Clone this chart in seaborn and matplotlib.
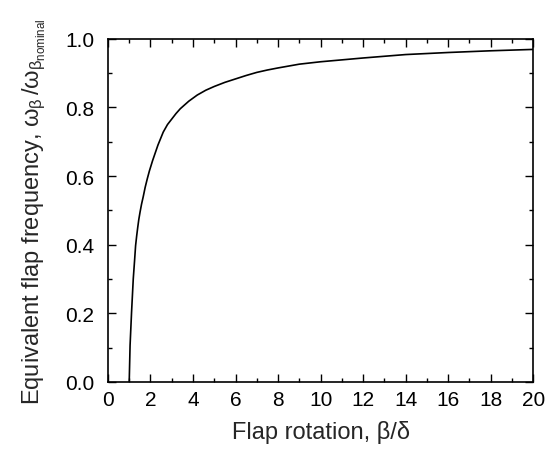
import matplotlib
matplotlib.use("Agg")
import matplotlib.pyplot as plt
from matplotlib.ticker import MultipleLocator
import seaborn as sns
import pandas as pd

# values
flap_rotation = [1.0, 1.04, 1.11, 1.19, 1.25, 1.30, 1.35, 1.40, 1.45, 1.51, 1.58,
                 1.66, 1.75, 1.85, 1.95, 2.1, 2.35, 2.6, 2.8, 3.0, 3.2, 3.4, 3.8,
                 4.2, 4.6, 5.0, 5.5, 6.0, 6.5, 7.0, 7.5, 8.0, 9.0, 10.0, 12.0,
                 14.0, 16.0, 18.0, 20.0]
flap_frequency = [0.0, 0.106, 0.203, 0.300, 0.352, 0.397, 0.425, 0.450, 0.473,
                  0.495, 0.518, 0.540, 0.567, 0.592, 0.615, 0.645, 0.690, 0.728,
                  0.750, 0.766, 0.782, 0.796, 0.818, 0.836, 0.850, 0.861, 0.873,
                  0.883, 0.893, 0.902, 0.909, 0.915, 0.926, 0.933, 0.944, 0.954,
                  0.960, 0.965, 0.969]

data = pd.DataFrame({"beta": flap_rotation, "freq": flap_frequency})

sns.set_style("ticks")
plt.rcParams["font.family"] = ["Liberation Sans", "DejaVu Sans"]
plt.rcParams["mathtext.fontset"] = "custom"
plt.rcParams["mathtext.rm"] = "Liberation Sans"
plt.rcParams["mathtext.it"] = "Liberation Sans"

fig = plt.figure(figsize=(5.48, 4.52), dpi=100)
ax = fig.add_axes([0.197, 0.153, 0.776, 0.759])

sns.lineplot(data=data, x="beta", y="freq", color="black", linewidth=1.2,
             ax=ax, sort=False)

ax.set_xlim(0, 20)
ax.set_ylim(0, 1.0)
ax.xaxis.set_major_locator(MultipleLocator(2))
ax.xaxis.set_minor_locator(MultipleLocator(1))
ax.yaxis.set_major_locator(MultipleLocator(0.2))
ax.yaxis.set_minor_locator(MultipleLocator(0.1))
ax.yaxis.set_major_formatter(matplotlib.ticker.FormatStrFormatter("%.1f"))

ax.tick_params(which="both", direction="in", top=True, right=True,
               colors="black", labelsize=15, width=1.0)
ax.tick_params(which="major", length=6)
ax.tick_params(which="minor", length=3)
ax.tick_params(axis="x", which="major", pad=6)
ax.tick_params(axis="y", which="major", pad=10)
for s in ax.spines.values():
    s.set_linewidth(1.2)
    s.set_color("black")

ax.set_xlabel(r"Flap rotation, β/δ", fontsize=17, labelpad=8)
ax.set_ylabel(r"Equivalent flap frequency, $ω_β\,/ω_{β_{\mathrm{nominal}}}$",
              fontsize=17, labelpad=12)

fig.savefig("out.png", dpi=100)
